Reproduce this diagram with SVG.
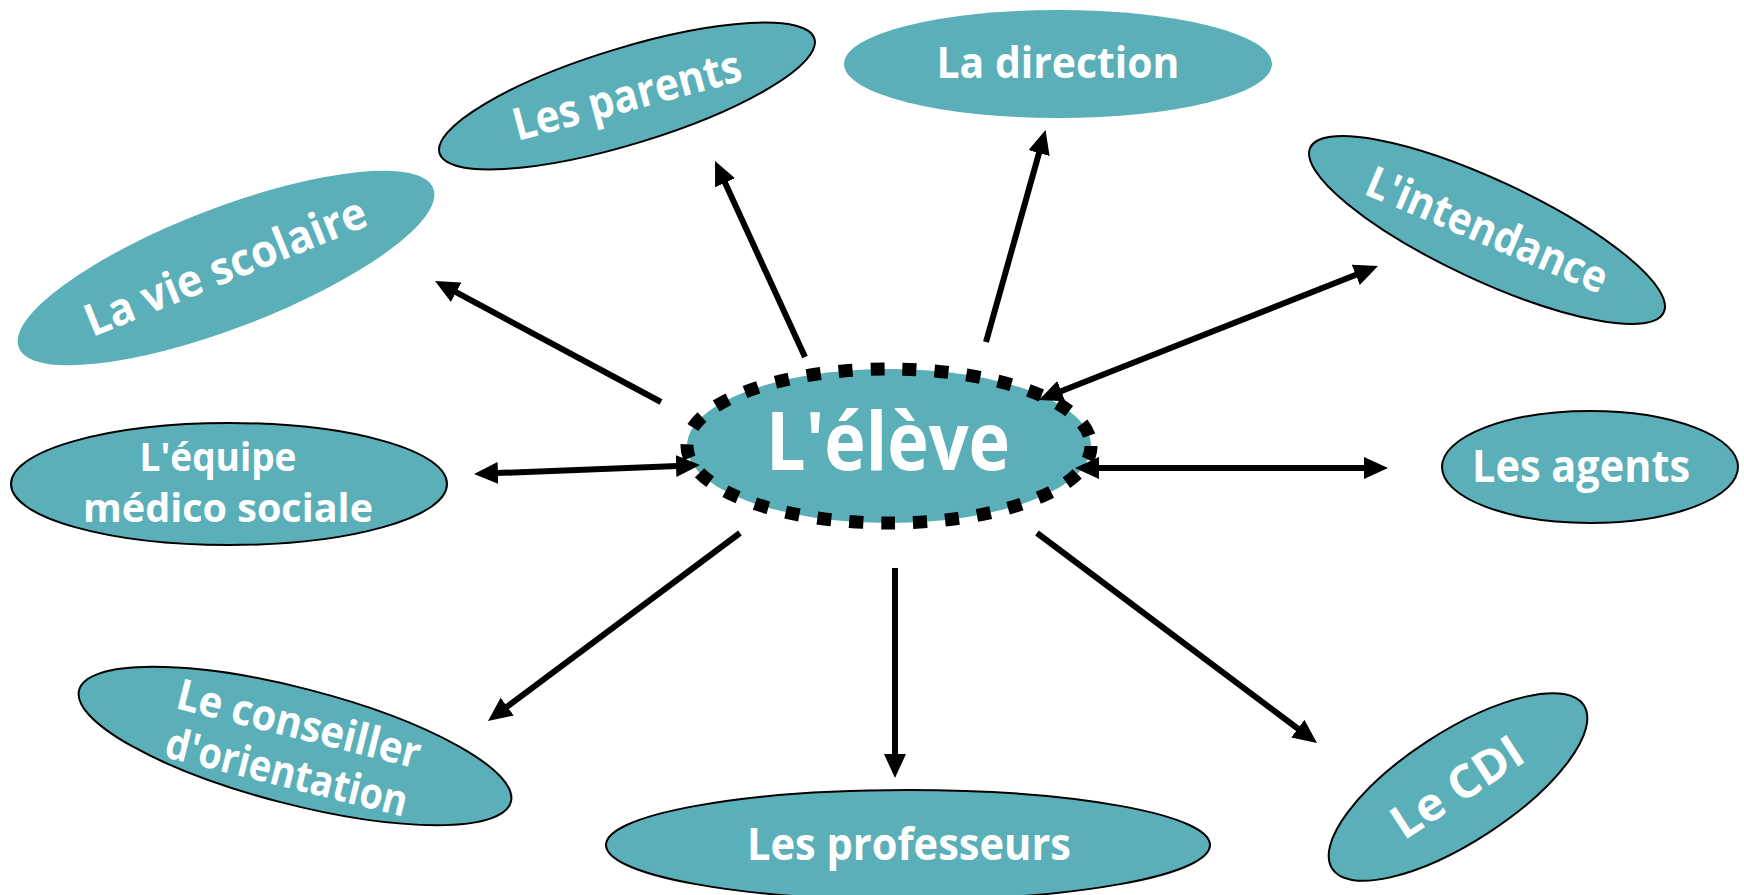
<svg xmlns="http://www.w3.org/2000/svg" width="1744" height="895" viewBox="0 0 1744 895">
<style>
.n{fill:#5AAFB8;stroke:#000;stroke-width:2}
.ns{fill:#5AAFB8;stroke:none}
.t{fill:#fff;font-family:"Open Sans","DejaVu Sans",sans-serif;font-weight:bold;text-anchor:middle}
.c{stroke:#000;stroke-width:6;fill:none}
</style>
<defs>
<marker id="ah" markerUnits="userSpaceOnUse" markerWidth="24" markerHeight="22" viewBox="0 0 24 22" refX="14" refY="11" orient="auto-start-reverse">
<path d="M0,0 L24,11 L0,22 z" fill="#000"/>
</marker>
</defs>
<rect width="1744" height="895" fill="#fff"/>

<g id="node-vie-scolaire">
<ellipse class="ns" cx="0" cy="0" rx="222" ry="60" transform="translate(226,268) rotate(-21)"/>
<text class="t" x="0" y="14" font-size="45" textLength="300" lengthAdjust="spacingAndGlyphs" transform="translate(226,268) rotate(-22)">La vie scolaire</text>
</g>

<g id="node-parents">
<ellipse class="n" cx="0" cy="0" rx="196" ry="48" transform="translate(627,96) rotate(-17)"/>
<text class="t" x="0" y="15" font-size="45" textLength="235" lengthAdjust="spacingAndGlyphs" transform="translate(627,96) rotate(-15)">Les parents</text>
</g>

<g id="node-direction">
<ellipse class="ns" cx="1058" cy="64" rx="214" ry="54"/>
<text class="t" x="1058" y="78" font-size="43" textLength="243" lengthAdjust="spacingAndGlyphs">La direction</text>
</g>

<g id="node-intendance">
<ellipse class="n" cx="0" cy="0" rx="195" ry="50" transform="translate(1487,230) rotate(25)"/>
<text class="t" x="0" y="15" font-size="44" textLength="258" lengthAdjust="spacingAndGlyphs" transform="translate(1487,230) rotate(23)">L'intendance</text>
</g>

<g id="node-agents">
<ellipse class="n" cx="1590" cy="467" rx="148" ry="56"/>
<text class="t" x="1581" y="482" font-size="44" textLength="218" lengthAdjust="spacingAndGlyphs">Les agents</text>
</g>

<g id="node-cdi">
<ellipse class="n" cx="0" cy="0" rx="150" ry="55" transform="translate(1458,787) rotate(-33)"/>
<text class="t" x="0" y="16" font-size="46" textLength="148" lengthAdjust="spacingAndGlyphs" transform="translate(1457,787) rotate(-33)">Le CDI</text>
</g>

<g id="node-professeurs">
<ellipse class="n" cx="908" cy="845" rx="302" ry="55"/>
<text class="t" x="909" y="860" font-size="44" textLength="324" lengthAdjust="spacingAndGlyphs">Les professeurs</text>
</g>

<g id="node-conseiller">
<ellipse class="n" cx="0" cy="0" rx="223" ry="58" transform="translate(295,746) rotate(14.5)"/>
<g transform="translate(293,748) rotate(14)">
<text class="t" x="0" y="-10" font-size="43" textLength="250" lengthAdjust="spacingAndGlyphs">Le conseiller</text>
<text class="t" x="0" y="40" font-size="43" textLength="248" lengthAdjust="spacingAndGlyphs">d'orientation</text>
</g>
</g>

<g id="node-equipe">
<ellipse class="n" cx="229" cy="484" rx="218" ry="61"/>
<text class="t" x="218" y="471" font-size="40" textLength="157" lengthAdjust="spacingAndGlyphs">L'équipe</text>
<text class="t" x="228" y="522" font-size="40" textLength="290" lengthAdjust="spacingAndGlyphs">médico sociale</text>
</g>

<g id="node-eleve">
<ellipse cx="889" cy="446" rx="202" ry="77" fill="#5AAFB8" stroke="#000" stroke-width="13" stroke-dasharray="14 18"/>
<text class="t" x="888" y="470" font-size="80" textLength="244" lengthAdjust="spacingAndGlyphs">L'élève</text>
</g>

<g id="connectors">
<line class="c" x1="661" y1="402" x2="443.8" y2="285.7" marker-end="url(#ah)"/>
<line class="c" x1="805" y1="357" x2="719.2" y2="170.1" marker-end="url(#ah)"/>
<line class="c" x1="986" y1="342" x2="1042.8" y2="139.6" marker-end="url(#ah)"/>
<line class="c" x1="1048.3" y1="396.3" x2="1368.7" y2="269.7" marker-start="url(#ah)" marker-end="url(#ah)"/>
<line class="c" x1="1085" y1="468" x2="1378" y2="468" marker-start="url(#ah)" marker-end="url(#ah)"/>
<line class="c" x1="1037" y1="533" x2="1309" y2="737" marker-end="url(#ah)"/>
<line class="c" x1="895" y1="568" x2="895" y2="768" marker-end="url(#ah)"/>
<line class="c" x1="740" y1="533" x2="496" y2="715" marker-end="url(#ah)"/>
<line class="c" x1="690" y1="465.4" x2="484" y2="473.6" marker-start="url(#ah)" marker-end="url(#ah)"/>
</g>
</svg>
